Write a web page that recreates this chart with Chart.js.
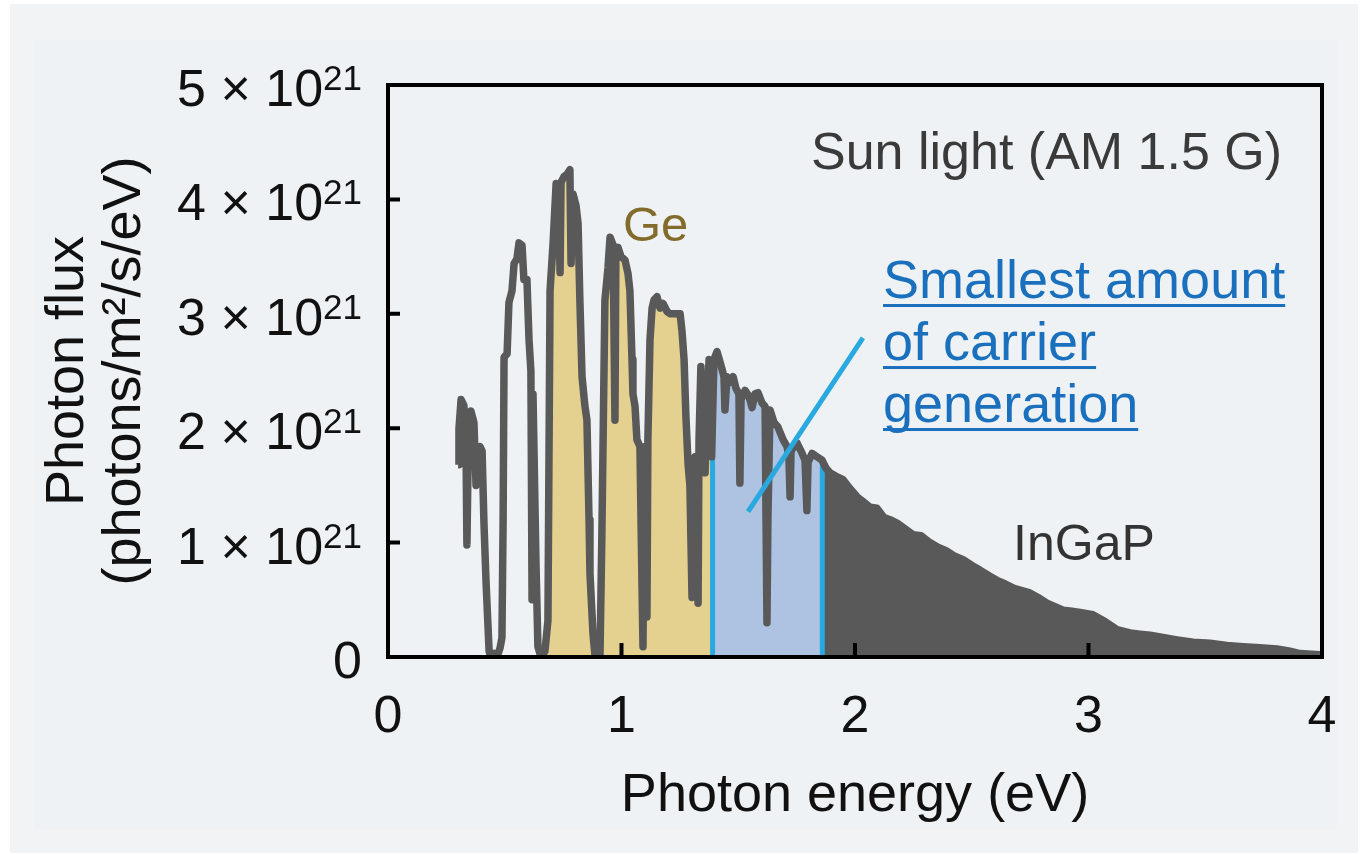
<!DOCTYPE html>
<html>
<head>
<meta charset="utf-8">
<title>Photon flux (AM 1.5 G)</title>
<script src="https://cdn.jsdelivr.net/npm/chart.js@4.4.1/dist/chart.umd.min.js"></script>
<style>
  html, body { margin: 0; padding: 0; background: #ffffff; }
  #wrap { width: 1369px; height: 854px; }
</style>
</head>
<body>
<div id="wrap"><canvas id="fluxChart" width="1369" height="854"></canvas></div>
<script>
"use strict";

// AM 1.5 G spectrum, photon energy (eV) vs photon flux (x 10^21 photons/m2/s/eV)
const energy = [
  0.300, 0.304, 0.313, 0.325, 0.334, 0.338, 0.343, 0.355, 0.368, 0.377,
  0.385, 0.394, 0.403, 0.411, 0.420, 0.433, 0.441, 0.454, 0.467, 0.480,
  0.488, 0.493, 0.497, 0.510, 0.518, 0.531, 0.540, 0.552, 0.561, 0.574,
  0.582, 0.595, 0.604, 0.612, 0.617, 0.621, 0.634, 0.642, 0.655, 0.672,
  0.685, 0.694, 0.707, 0.720, 0.728, 0.737, 0.741, 0.754, 0.767, 0.779,
  0.784, 0.792, 0.805, 0.814, 0.822, 0.831, 0.843, 0.852, 0.861, 0.865,
  0.878, 0.887, 0.908, 0.916, 0.929, 0.942, 0.951, 0.964, 0.972, 0.976,
  0.985, 0.998, 1.015, 1.028, 1.036, 1.045, 1.049, 1.058, 1.066, 1.079,
  1.088, 1.092, 1.097, 1.101, 1.109, 1.113, 1.122, 1.131, 1.139, 1.152,
  1.165, 1.178, 1.195, 1.208, 1.229, 1.251, 1.259, 1.268, 1.276, 1.285,
  1.293, 1.302, 1.311, 1.315, 1.323, 1.328, 1.332, 1.340, 1.349, 1.358,
  1.366, 1.375, 1.381, 1.386, 1.396, 1.409, 1.426, 1.439, 1.443, 1.452,
  1.465, 1.478, 1.490, 1.503, 1.507, 1.512, 1.529, 1.546, 1.559, 1.572,
  1.585, 1.602, 1.615, 1.619, 1.623, 1.627, 1.636, 1.653, 1.670, 1.692,
  1.709, 1.717, 1.722, 1.726, 1.752, 1.769, 1.786, 1.794, 1.799, 1.816,
  1.837, 1.859, 1.876, 1.893, 1.919, 1.949, 1.979, 2.009, 2.034, 2.064,
  2.094, 2.124, 2.150, 2.180, 2.214, 2.248, 2.283, 2.321, 2.355, 2.390,
  2.428, 2.463, 2.501, 2.535, 2.574, 2.608, 2.642, 2.681, 2.715, 2.749,
  2.784, 2.822, 2.857, 2.891, 2.929, 2.964, 3.019, 3.071, 3.122, 3.178,
  3.220, 3.263, 3.319, 3.379, 3.448, 3.520, 3.593, 3.662, 3.734, 3.807,
  3.863, 3.906, 3.991
];
const flux = [
  1.68, 2.00, 2.25, 2.20, 1.85, 0.98, 1.70, 2.15, 2.05, 1.50,
  1.60, 1.84, 1.80, 1.17, 0.65, 0.05, 0.00, 0.03, 0.00, 0.08,
  0.17, 1.20, 2.62, 2.65, 3.10, 3.20, 3.44, 3.48, 3.62, 3.60,
  3.30, 3.30, 2.77, 2.50, 0.50, 2.30, 0.80, 0.09, 0.00, 0.05,
  0.32, 3.20, 3.62, 4.14, 4.10, 3.36, 4.15, 4.20, 4.22, 4.26,
  3.44, 4.05, 3.95, 3.79, 3.10, 2.45, 2.20, 2.07, 1.20, 0.73,
  0.20, 0.00, 0.02, 1.08, 3.12, 3.40, 3.67, 3.60, 2.07, 3.55,
  3.58, 3.50, 3.47, 3.35, 3.20, 2.60, 2.30, 2.19, 1.90, 1.84,
  0.60, 0.09, 1.50, 1.84, 0.35, 1.90, 2.77, 3.05, 3.12, 3.15,
  3.05, 3.09, 3.02, 3.00, 3.00, 3.00, 2.85, 2.60, 2.10, 1.69,
  1.50, 0.52, 1.40, 1.75, 1.60, 0.47, 1.90, 2.54, 1.80, 1.61,
  2.20, 2.60, 2.55, 1.75, 2.60, 2.67, 2.55, 2.45, 2.16, 2.45,
  2.40, 2.45, 2.35, 2.30, 1.52, 2.25, 2.33, 2.28, 2.18, 2.30,
  2.31, 2.22, 2.19, 1.20, 0.30, 1.20, 2.16, 2.05, 2.01, 1.90,
  1.84, 1.75, 1.40, 1.80, 1.87, 1.80, 1.72, 1.28, 1.70, 1.78,
  1.75, 1.72, 1.65, 1.61, 1.58, 1.55, 1.47, 1.40, 1.36, 1.31,
  1.30, 1.22, 1.20, 1.17, 1.12, 1.07, 1.06, 1.00, 0.96, 0.93,
  0.88, 0.85, 0.80, 0.76, 0.71, 0.67, 0.64, 0.60, 0.58, 0.56,
  0.52, 0.47, 0.44, 0.41, 0.40, 0.39, 0.37, 0.31, 0.24, 0.21,
  0.20, 0.19, 0.17, 0.15, 0.13, 0.12, 0.10, 0.09, 0.08, 0.07,
  0.05, 0.03, 0.02
];

// absorption edges of the three sub-cells (eV)
const geEdge = 0.67;
const midEdge = 1.39;
const ingapEdge = 1.86;

const xTicks = [0, 1, 2, 3, 4];
const yTicks = [0, 1, 2, 3, 4, 5];

// pointer from the label into the middle band
const leaderX = [1.542, 2.034];
const leaderY = [1.27, 2.79];

const lineGray = "#595959";
const edgeBlue = "#29a9e0";
const FONT = "'Liberation Sans', Arial, sans-serif";

function fluxAt(e) {
  for (let i = 0; i < energy.length - 1; i++) {
    if (e >= energy[i] && e <= energy[i + 1]) {
      const t = (e - energy[i]) / (energy[i + 1] - energy[i]);
      return flux[i] + t * (flux[i + 1] - flux[i]);
    }
  }
  return 0;
}

function bandPoints(lo, hi) {
  const pts = [{ x: lo, y: fluxAt(lo) }];
  energy.forEach((e, i) => {
    if (e > lo && e < hi) pts.push({ x: e, y: flux[i] });
  });
  pts.push({ x: hi, y: fluxAt(hi) });
  return pts;
}

const spectrum = energy.map((e, i) => ({ x: e, y: flux[i] }));
const lastE = energy[energy.length - 1];

function fillSet(points, color, order) {
  return {
    data: points,
    backgroundColor: color,
    borderWidth: 0,
    pointRadius: 0,
    fill: "origin",
    order: order,
  };
}

function lineSet(points, color, width, order) {
  return {
    data: points,
    borderColor: color,
    borderWidth: width,
    pointRadius: 0,
    fill: false,
    order: order,
  };
}

// panel background
const panelBg = {
  id: "panelBg",
  beforeDraw(chart) {
    const c = chart.ctx;
    c.save();
    c.fillStyle = "#ffffff";
    c.fillRect(0, 0, chart.width, chart.height);
    c.fillStyle = "#f1f3f5";
    c.fillRect(10, 4, 1348, 849);
    c.fillStyle = "#eff2f4";
    c.fillRect(35, 40, 1302, 789);
    c.restore();
  },
};

// box frame with inward tick marks
const frame = {
  id: "frame",
  afterDatasetsDraw(chart) {
    const { ctx: c, chartArea: a, scales } = chart;
    c.save();
    c.strokeStyle = "#000000";
    c.lineWidth = 4;
    c.beginPath();
    xTicks.slice(1, -1).forEach((v) => {
      const px = scales.x.getPixelForValue(v);
      c.moveTo(px, a.bottom);
      c.lineTo(px, a.bottom - 14);
    });
    yTicks.slice(1, -1).forEach((v) => {
      const py = scales.y.getPixelForValue(v);
      c.moveTo(a.left, py);
      c.lineTo(a.left + 12, py);
    });
    c.stroke();
    c.lineJoin = "miter";
    c.strokeRect(a.left, a.top, a.right - a.left, a.bottom - a.top);
    c.restore();
  },
};

// y tick labels written as "n × 10" with a raised exponent
const yLabels = {
  id: "yLabels",
  afterDraw(chart) {
    const { ctx: c, chartArea: a, scales } = chart;
    const right = a.left - 26;
    c.save();
    c.fillStyle = "#111111";
    c.textAlign = "right";
    c.textBaseline = "alphabetic";
    yTicks.forEach((v) => {
      const base = scales.y.getPixelForValue(v) + 21;
      if (v === 0) {
        c.font = "52px " + FONT;
        c.fillText("0", right, base);
        return;
      }
      c.font = "35px " + FONT;
      const sw = c.measureText("21").width;
      c.fillText("21", right, base - 16);
      c.font = "52px " + FONT;
      c.fillText(v + " \u00d7 10", right - sw, base);
    });
    c.restore();
  },
};

const notes = [
  { text: "Sun light (AM 1.5 G)", x: 3.829, y: 4.266, align: "right", color: "#3a3a3a", size: 52 },
  { text: "Ge", x: 1.006, y: 3.636, align: "left", color: "#826b2b", size: 49 },
  { text: "InGaP", x: 2.677, y: 0.848, align: "left", color: "#333333", size: 50 },
  { text: "Smallest amount", x: 2.12, y: 3.138, align: "left", color: "#1b70be", size: 54, underline: true },
  { text: "of carrier", x: 2.12, y: 2.596, align: "left", color: "#1b70be", size: 54, underline: true },
  { text: "generation", x: 2.12, y: 2.054, align: "left", color: "#1b70be", size: 54, underline: true },
];

const labels = {
  id: "labels",
  afterDraw(chart) {
    const { ctx: c, scales } = chart;
    c.save();
    notes.forEach((n) => {
      const px = scales.x.getPixelForValue(n.x);
      const py = scales.y.getPixelForValue(n.y);
      c.font = n.size + "px " + FONT;
      c.fillStyle = n.color;
      c.textAlign = n.align;
      c.textBaseline = "alphabetic";
      c.fillText(n.text, px, py);
      if (n.underline) {
        const w = c.measureText(n.text).width;
        c.fillRect(px, py + 6, w, 3);
      }
    });
    c.restore();
  },
};

const ctx = document.getElementById("fluxChart").getContext("2d");
const fluxChart = new Chart(ctx, {
  type: "line",
  data: {
    datasets: [
      lineSet([{ x: leaderX[0], y: leaderY[0] }, { x: leaderX[1], y: leaderY[1] }], edgeBlue, 5, 0),
      lineSet(spectrum, lineGray, 7.5, 1),
      lineSet([{ x: midEdge, y: 0 }, { x: midEdge, y: fluxAt(midEdge) }], edgeBlue, 5, 2),
      lineSet([{ x: ingapEdge, y: 0 }, { x: ingapEdge, y: fluxAt(ingapEdge) }], edgeBlue, 5, 2),
      fillSet(bandPoints(geEdge, midEdge), "#e4d18f", 3),
      fillSet(bandPoints(midEdge, ingapEdge), "#aec3e1", 3),
      fillSet(bandPoints(ingapEdge, lastE), lineGray, 3),
    ],
  },
  options: {
    responsive: false,
    animation: false,
    events: [],
    layout: {
      padding: { left: 30, right: 47, top: 85, bottom: 25 },
    },
    elements: {
      line: { tension: 0, borderJoinStyle: "round" },
    },
    plugins: {
      legend: { display: false },
      tooltip: { enabled: false },
    },
    scales: {
      x: {
        type: "linear",
        min: 0,
        max: 4,
        afterFit(scale) {
          scale.height = 854 - 657 - 25;
        },
        afterBuildTicks(scale) {
          scale.ticks = xTicks.map((v) => ({ value: v }));
        },
        grid: { display: false, drawTicks: false },
        border: { display: false },
        ticks: {
          padding: 29,
          color: "#111111",
          font: { family: FONT, size: 52 },
        },
        title: {
          display: true,
          text: "Photon energy (eV)",
          color: "#111111",
          padding: 0,
          font: { family: FONT, size: 54 },
        },
      },
      y: {
        type: "linear",
        min: 0,
        max: 5,
        afterFit(scale) {
          scale.width = 388 - 30;
        },
        afterBuildTicks(scale) {
          scale.ticks = yTicks.map((v) => ({ value: v }));
        },
        grid: { display: false, drawTicks: false },
        border: { display: false },
        ticks: { display: false },
        title: {
          display: true,
          text: ["Photon flux", "(photons/m\u00b2/s/eV)"],
          color: "#111111",
          padding: { top: 9, bottom: 0 },
          font: { family: FONT, size: 54, lineHeight: 1.06 },
        },
      },
    },
  },
  plugins: [panelBg, frame, yLabels, labels],
});
</script>
</body>
</html>
